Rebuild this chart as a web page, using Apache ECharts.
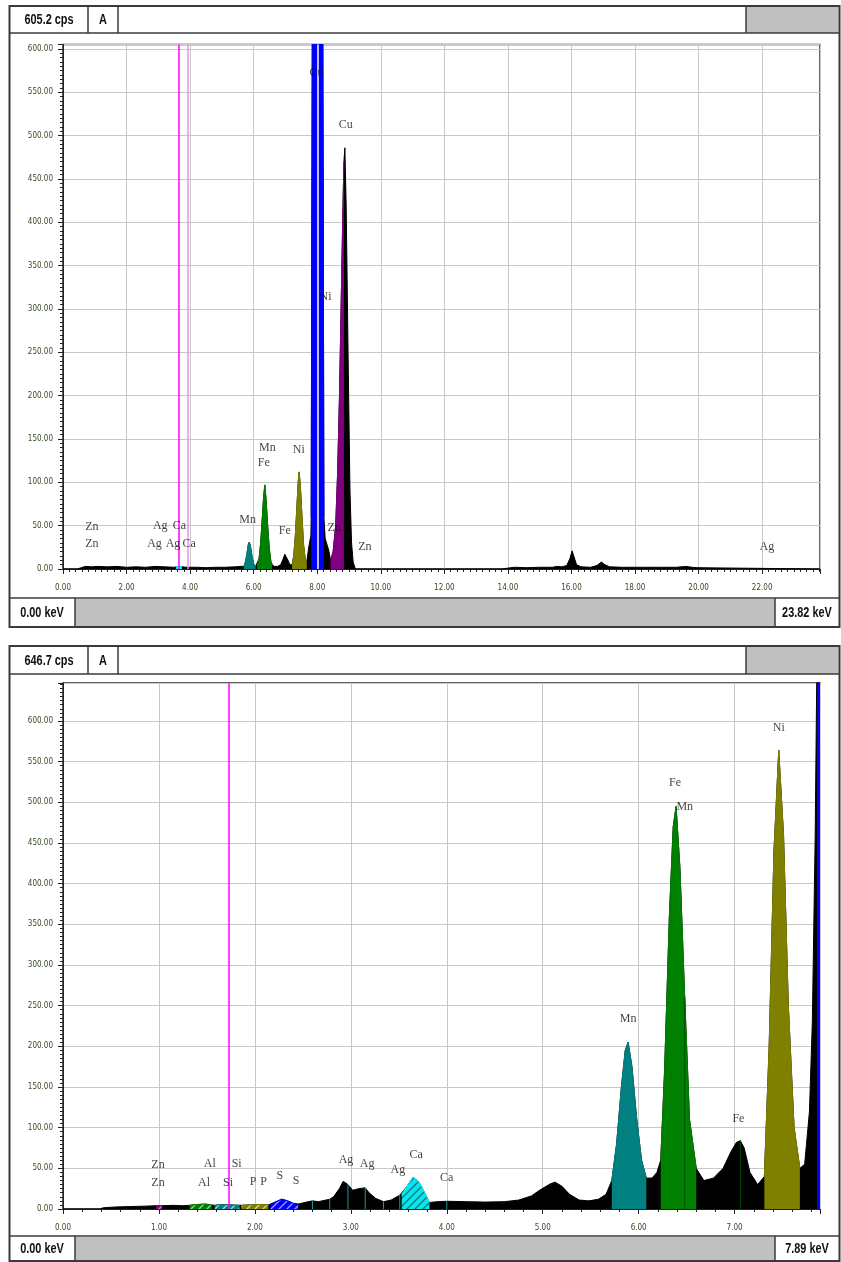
<!DOCTYPE html>
<html><head><meta charset="utf-8">
<script src="https://cdn.jsdelivr.net/npm/echarts@6/dist/echarts.min.js"></script>
<style>html,body{margin:0;padding:0;background:#fff}#c{width:841px;height:1262px}</style>
</head><body><div id="c"></div>
<script>
// ---------- TOP SPECTRUM (0 - 23.82 keV, 605.2 cps full scale) ----------
const topMaxKeV = 23.82;
const topMaxCps = 605.2;
const topEnergy = [0.00,0.45,0.50,0.70,0.90,1.10,1.40,1.70,2.00,2.30,2.60,2.90,3.20,3.50,3.56,3.65,3.74,3.90,4.20,4.50,4.80,5.10,5.40,5.60,
  5.69,5.74,5.79,5.83,5.86,5.90,5.95,6.00,6.06,
  6.11,6.17,6.22,6.27,6.31,6.35,6.39,6.44,6.49,6.54,6.58,
  6.65,6.75,6.85,6.92,6.98,7.02,7.08,7.14,7.18,
  7.21,7.26,7.31,7.36,7.40,7.43,7.47,7.52,7.57,7.62,7.67,
  7.72,7.77,7.80,
  7.81,7.83,7.85,8.17,8.19,8.21,8.25,8.30,8.36,
  8.42,8.50,8.58,8.64,8.70,8.75,8.80,8.84,8.87,8.91,8.97,9.03,9.08,9.13,9.20,
  13.80,13.85,14.20,14.60,15.00,15.40,15.55,15.70,15.85,15.95,16.02,16.08,16.16,16.30,16.60,16.80,16.94,17.05,17.20,17.60,18.20,18.80,19.30,19.60,19.80,19.95,20.00,23.82];
const topCounts = [0,0,2,3,2.5,3,2.5,3,2,2.5,2,3,2.5,2,2.5,3,2.5,2,2,1.5,2,2,2.5,3,
  3,8,18,28,31,26,14,6,3,
  4,12,30,58,82,97,80,50,24,9,5,
  3,3,5,11,17,17,10,5,4,
  5,15,38,72,100,112,95,60,28,12,8,
  22,33,38,
  60,400,700,700,400,60,35,33,22,
  10,20,50,110,200,300,400,470,486,420,250,90,30,8,0,
  0,1.5,2,1.5,2,2,3,2.5,4,12,21,14,5,2.5,2,4,8,5,2.5,2,2,2,2,3,2,1.5,0,0];
// element windows (keV)
const topRoiName = ['Ca','Mn','Fe','Ni','Cu','Zn'];
const topRoiFrom = [3.56,5.69,6.11,7.21,7.81,8.42];
const topRoiTo   = [3.74,6.06,6.58,7.67,8.21,8.84];
// element labels
const topLabelText = ['Zn','Zn','Ag','Ca','Ag','Ag','Ca','Mn','Mn','Fe','Ni','Fe','Zn','Zn','Cu','Cu','Ni','Ag'];
const topLabelKeV  = [0.91,0.91,3.06,3.66,2.88,3.46,3.97,5.81,6.43,6.32,7.42,6.98,8.53,9.50,7.98,8.90,8.26,22.15];
const topLabelCps  = [49,29,50,50,29,29,29,57,140,122,138,44,48,26,573,512,314,25];
const topMarkerKeV = [3.63,3.94,8.02];
const topLineKeV = [];
const topXTicks = [0,2,4,6,8,10,12,14,16,18,20,22];

// ---------- BOTTOM SPECTRUM (0 - 7.89 keV, 646.7 cps full scale) ----------
const botMaxKeV = 7.89;
const botMaxCps = 646.7;
const botEnergy = [0.00,0.38,0.42,0.55,0.70,0.85,0.97,1.00,1.03,1.15,1.25,
  1.32,1.40,1.48,1.55,1.58,1.66,1.75,1.84,1.86,1.95,2.05,2.14,2.16,2.22,2.28,2.34,2.40,2.45,
  2.52,2.60,2.66,2.78,2.82,2.88,2.92,2.97,3.02,3.08,3.15,3.19,3.26,3.34,3.42,3.51,
  3.53,3.58,3.65,3.71,3.77,3.82,3.90,4.00,4.20,4.40,4.60,4.75,4.88,4.98,5.08,5.13,5.20,5.28,5.38,5.48,5.58,5.66,
  5.72,5.77,5.82,5.86,5.89,5.93,5.98,6.03,6.08,6.14,6.19,
  6.23,6.27,6.32,6.36,6.39,6.43,6.48,6.53,6.60,6.68,6.78,6.88,6.96,7.02,7.06,7.10,7.16,7.24,
  7.31,7.36,7.41,7.46,7.51,7.56,7.62,7.68,7.73,7.78,7.81,7.84,7.86,7.89];
const botCounts = [0,0,1.5,2.5,3,3.5,4,4,4,4.5,4,
  4.5,5.5,6,5,4.5,5.5,5,4.5,4.5,5,5.5,5,5,9,12,10,7,6,
  8,10,9,12,15,25,34,30,23,25,26,20,13,9,11,17,
  18,27,39,33,20,8,9,9.5,9,8.5,9,11,16,24,31,33,28,18,11,10,12,18,
  35,80,150,195,205,175,110,60,38,38,45,
  60,170,360,470,495,420,260,110,50,35,38,50,70,82,84,75,45,30,
  40,200,440,564,460,250,100,50,55,120,230,460,700,700];
const botRoiName = ['Zn','Al','Si','P','S','Ca','Mn','Fe','Ni','Cu'];
const botRoiFrom = [0.97,1.32,1.58,1.86,2.16,3.53,5.72,6.23,7.31,7.86];
const botRoiTo   = [1.03,1.55,1.84,2.14,2.45,3.82,6.08,6.60,7.68,7.89];
const botLabelText = ['Zn','Zn','Al','Al','Si','Si','P','P','S','S','Ag','Ag','Ag','Ca','Ca','Mn','Fe','Mn','Fe','Ni'];
const botLabelKeV  = [0.99,0.99,1.53,1.47,1.81,1.72,1.98,2.09,2.26,2.43,2.95,3.17,3.49,3.68,4.00,5.89,6.38,6.48,7.04,7.46];
const botLabelCps  = [54,32,56,32,56,32,34,34,41,35,60,55,48,66,38,234,524,494,111,592];
const botMarkerKeV = [1.73];
// element line positions drawn inside the spectrum (must be energies of the data above)
const botLineKeV  = [2.60,2.78,2.97,3.15,3.34,3.51,4.00,6.48,7.06];
const botLineElem = ['Ag','Ag','Ag','Ag','Ag','Ag','Ca','Fe','Fe'];
const botXTicks = [0,1,2,3,4,5,6,7];

// ---------- styles ----------
const SOLID = {Ca:'#00ffff',Mn:'#008080',Fe:'#008000',Ni:'#808000',Cu:'#0000ff',Zn:'#800080',Al:'#008000',Si:'#008080',P:'#808000',S:'#0000ff'};
const LINECOL = {Ag:'#1a9a9a', Ca:'#1a9a9a', Fe:'#004a00'};
function hatch(bg, fg){
  const c = document.createElement('canvas'); c.width = 8; c.height = 8;
  const g = c.getContext('2d');
  g.fillStyle = bg; g.fillRect(0,0,8,8);
  g.strokeStyle = fg; g.lineWidth = 1.3;
  g.beginPath(); g.moveTo(0,8); g.lineTo(8,0); g.moveTo(-2,2); g.lineTo(2,-2); g.moveTo(6,10); g.lineTo(10,6); g.stroke();
  return {image:c, repeat:'repeat'};
}
const HATCHED = {Zn:hatch('#800080','#d080d0'),Al:hatch('#008000','#9fd09f'),Si:hatch('#008080','#a0d8d8'),P:hatch('#808000','#d8d890'),S:hatch('#0000ff','#a0a0ff'),Ca:hatch('#00e8f0','#2a6a70')};

const FONT_AX = '"DejaVu Sans Condensed","Liberation Sans Narrow",sans-serif';
const FONT_HD = '"Liberation Sans","Arial",sans-serif';
const FONT_LB = '"Liberation Serif","DejaVu Serif",serif';

function pairs(ex, ey){ return ex.map((e,i)=>[e, ey[i]]); }

function buildSeries(idx, ex, ey, roiN, roiF, roiT, hatchSet, lblT, lblK, lblC, markers, markerColors, lineK, lineE){
  const data = pairs(ex, ey);
  const out = [];
  out.push({
    type:'line', xAxisIndex:idx, yAxisIndex:idx, data:data, showSymbol:false, symbol:'none',
    lineStyle:{color:'#000', width:1}, areaStyle:{color:'#000', opacity:1}, z:2, silent:true,
    markLine:{silent:true, symbol:'none', label:{show:false}, animation:false,
      data: markers.map((m,i)=>({xAxis:m, lineStyle:{color:markerColors[i], width:1.5, type:'solid'}}))}
  });
  roiN.forEach((n,i)=>{
    const d = data.filter(p=>p[0]>=roiF[i]-1e-9 && p[0]<=roiT[i]+1e-9);
    const fill = hatchSet && hatchSet[n] ? hatchSet[n] : SOLID[n];
    out.push({type:'line', xAxisIndex:idx, yAxisIndex:idx, data:d, showSymbol:false, symbol:'none',
      lineStyle:{color:SOLID[n], width:1}, areaStyle:{color:fill, opacity:1}, z:3, silent:true});
  });
  if (lineK.length) {
    out.push({type:'bar', xAxisIndex:idx, yAxisIndex:idx, barWidth:1, z:4, silent:true,
      data: lineK.map((k,i)=>{ const p = data.find(q=>Math.abs(q[0]-k)<1e-9); return {value:[k, p ? p[1] : 0], itemStyle:{color:LINECOL[lineE[i]]}}; })});
  }
  out.push({type:'scatter', xAxisIndex:idx, yAxisIndex:idx, symbolSize:1, itemStyle:{color:'rgba(0,0,0,0)'}, z:10, silent:true,
    data: lblT.map((t,i)=>({name:t, value:[lblK[i], lblC[i]]})),
    label:{show:true, position:'inside', formatter:'{b}', fontFamily:FONT_LB, fontSize:12, color:'#111'}});
  return out;
}

function xAxis(idx, max, interval, split, ticks){
  return {type:'value', gridIndex:idx, min:0, max:max, interval:interval,
    axisLine:{show:true, onZero:false, lineStyle:{color:'#222', width:1}},
    axisTick:{show:true, length:5, lineStyle:{color:'#222'}},
    minorTick:{show:true, splitNumber:split, length:3, lineStyle:{color:'#222'}},
    splitLine:{show:true, lineStyle:{color:'#c8c8c8', width:1}},
    axisLabel:{margin:15, fontSize:8, color:'#354a21', fontFamily:FONT_AX,
      formatter:v=> ticks.some(t=>Math.abs(t-v)<1e-6) ? v.toFixed(2) : ''}};
}
function yAxis(idx, max){
  return {type:'value', gridIndex:idx, min:0, max:max, interval:50,
    axisLine:{show:true, onZero:false, lineStyle:{color:'#222', width:1}},
    axisTick:{show:true, length:5, lineStyle:{color:'#222'}},
    minorTick:{show:true, splitNumber:10, length:3, lineStyle:{color:'#222'}},
    splitLine:{show:true, lineStyle:{color:'#c8c8c8', width:1}},
    axisLabel:{margin:10, fontSize:8, color:'#354a21', fontFamily:FONT_AX,
      formatter:v=> (Math.abs(v/50-Math.round(v/50))<1e-6 && v<=600) ? v.toFixed(2) : ''}};
}

function hdText(x, y, t){
  return {type:'text', x:x, y:y, scaleX:0.78, style:{text:t, font:'bold 14px '+FONT_HD, fill:'#111', align:'center', verticalAlign:'middle'}, z:101};
}
function panelGraphics(y0, y1, headBottom, barTop, cpsText, keVRight){
  const L = 9.5, R = 839.5, st = {stroke:'#3a3a3a', lineWidth:1.5};
  const g = [];
  g.push({type:'rect', shape:{x:L, y:y0, width:R-L, height:y1-y0}, style:{fill:'none', stroke:'#3a3a3a', lineWidth:2}, z:100});
  g.push({type:'rect', shape:{x:746, y:y0+1, width:R-746-1, height:headBottom-y0-1}, style:{fill:'#c0c0c0'}, z:99});
  g.push({type:'line', shape:{x1:L, y1:headBottom, x2:R, y2:headBottom}, style:st, z:100});
  [88,118,746].forEach(x=>g.push({type:'line', shape:{x1:x, y1:y0, x2:x, y2:headBottom}, style:st, z:100}));
  g.push(hdText(49, (y0+headBottom)/2+1, cpsText));
  g.push(hdText(103, (y0+headBottom)/2+1, 'A'));
  g.push({type:'rect', shape:{x:75, y:barTop+1, width:700, height:y1-barTop-1}, style:{fill:'#c0c0c0'}, z:99});
  g.push({type:'line', shape:{x1:L, y1:barTop, x2:R, y2:barTop}, style:st, z:100});
  [75,775].forEach(x=>g.push({type:'line', shape:{x1:x, y1:barTop, x2:x, y2:y1}, style:st, z:100}));
  g.push(hdText(42, (barTop+y1)/2+1, '0.00 keV'));
  g.push(hdText(807, (barTop+y1)/2+1, keVRight));
  return g;
}

const chart = echarts.init(document.getElementById('c'), null, {renderer:'canvas'});
const series = [].concat(
  buildSeries(0, topEnergy, topCounts, topRoiName, topRoiFrom, topRoiTo, null, topLabelText, topLabelKeV, topLabelCps, topMarkerKeV, ['#ff00ff','#e494e4','#ffffff'], topLineKeV, []),
  buildSeries(1, botEnergy, botCounts, botRoiName, botRoiFrom, botRoiTo, HATCHED, botLabelText, botLabelKeV, botLabelCps, botMarkerKeV, ['#ff00ff'], botLineKeV, botLineElem)
);
chart.setOption({
  animation:false,
  backgroundColor:'#ffffff',
  grid:[
    {left:63, top:44.5, width:757, height:524.5, show:true, borderColor:'#333', borderWidth:1.5, backgroundColor:'transparent'},
    {left:63, top:683, width:757, height:526, show:true, borderColor:'#333', borderWidth:1.5, backgroundColor:'transparent'}
  ],
  xAxis:[xAxis(0, topMaxKeV, 2, 10, topXTicks), xAxis(1, botMaxKeV, 1, 5, botXTicks)],
  yAxis:[yAxis(0, topMaxCps), yAxis(1, botMaxCps)],
  series:series,
  graphic:{elements: panelGraphics(6, 627, 33, 598, '605.2 cps', '23.82 keV').concat(panelGraphics(646, 1261, 674, 1236, '646.7 cps', '7.89 keV'))}
});
</script></body></html>
